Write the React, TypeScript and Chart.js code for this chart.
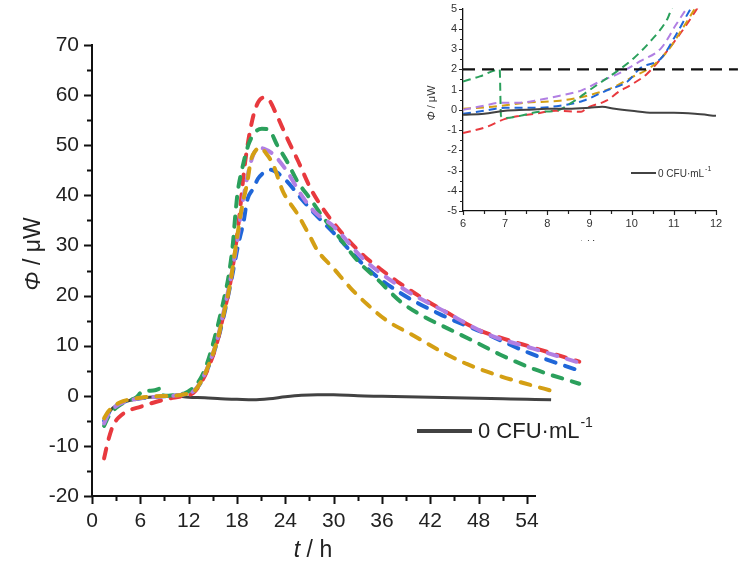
import React, { useEffect, useRef } from "react";
import { Chart, registerables } from "chart.js";
Chart.register(...registerables);

// ---------- main chart data ----------
const mainXTicks = [0, 6, 12, 18, 24, 30, 36, 42, 48, 54];
const mainXMinor = [3, 9, 15, 21, 27, 33, 39, 45, 51];
const mainYTicks = [-20, -10, 0, 10, 20, 30, 40, 50, 60, 70];
const mainYMinor = [-15, -5, 5, 15, 25, 35, 45, 55, 65];

const redT = [1.5, 2.0, 2.6, 3.4, 4.5, 6, 8, 10, 11.5, 12.6, 13.5, 14.3, 15.5, 16.3, 17.2, 18.2, 19.0, 19.9, 20.6, 21.3, 22.0, 22.8, 24.2, 25.6, 27.1, 28.4, 30.5, 33.7, 35.8, 37.9, 41.2, 44.2, 47.9, 50.7, 54.8, 60.5];
const redPhi = [-12.5, -9, -6, -4.2, -3, -2.2, -1.2, -0.4, 0, 0.6, 2.5, 5, 10.5, 16, 22.8, 34.5, 46.5, 55, 58.5, 59.5, 59, 56.5, 51.5, 46.8, 41.5, 38, 33.5, 28, 25.3, 22.8, 19.3, 16.5, 13.2, 11.6, 9.6, 6.8];

const greenT = [1.5, 2.0, 2.6, 3.5, 4.5, 5.5, 6.2, 7.0, 7.8, 8.6, 8.8, 9.5, 10.5, 11.5, 12.5, 13.5, 14.3, 15.3, 16.2, 17.0, 17.5, 17.8, 18.1, 18.6, 19.4, 20.2, 21.1, 22.0, 23.0, 24.2, 25.5, 27.1, 28.7, 30.5, 33, 35.4, 38.3, 41.2, 44.2, 47.4, 50.7, 54.9, 60.5];
const greenPhi = [-6, -4.3, -3, -1.8, -1, -0.3, 0.8, 1.0, 1.1, 1.5, 0.1, 0, 0.2, 0.5, 1.5, 3.5, 6.5, 12, 18, 24.3, 30.5, 36.2, 40.8, 45, 50, 52.5, 53.3, 53, 50, 46.8, 42.8, 39.3, 35.6, 32, 26.9, 23.3, 18.8, 15.8, 13.4, 10.9, 8.2, 5.3, 2.4];

const purpleT = [1.5, 2.0, 2.6, 3.5, 4.5, 6, 8, 10, 11.5, 12.6, 13.5, 14.3, 15.5, 16.3, 17.2, 18.0, 18.6, 19.3, 20.0, 20.7, 21.3, 22.5, 24.2, 25.9, 27.5, 30.0, 33.7, 38.7, 43.7, 49.1, 54.8, 60.5];
const purplePhi = [-5.5, -3.8, -2.6, -1.6, -1, -0.5, -0.2, 0, 0.3, 0.9, 2.8, 5.5, 11, 16.5, 23.3, 30.5, 37.6, 43.8, 48, 49.5, 49.3, 48.2, 44.8, 40.3, 36.9, 33.8, 27.3, 21.3, 16.9, 12.3, 9.4, 6.6];

const blueT = [1.5, 2.0, 2.6, 3.5, 4.5, 6, 8, 10, 11.5, 12.6, 13.5, 14.3, 15.5, 16.3, 17.2, 18.2, 18.8, 19.3, 20.0, 20.6, 21.3, 22.1, 23.0, 24.2, 25.9, 27.5, 30.0, 34.2, 37.9, 43.3, 48.3, 54.5, 60.5];
const bluePhi = [-5, -3.6, -2.5, -1.5, -1, -0.5, -0.2, 0, 0.3, 0.8, 2.6, 5.2, 10.5, 15.5, 22.3, 30.5, 34.6, 39.2, 41.3, 43.3, 44.5, 45.1, 44.5, 42.8, 39.5, 36.6, 32.5, 25.4, 20.9, 16.2, 12.8, 8.4, 5];

const goldT = [1.5, 2.0, 2.6, 3.5, 4.5, 6, 8, 10, 11.5, 12.6, 13.5, 14.3, 15.5, 16.3, 17.2, 18.0, 18.6, 19.3, 19.7, 20.3, 20.9, 21.6, 22.5, 23.7, 25.5, 26.9, 28.0, 30.0, 32.1, 34.2, 36.7, 39.6, 43.3, 46.6, 50.7, 54.8, 57.5, 60.5];
const goldPhi = [-4.5, -3.2, -2.2, -1.3, -0.8, -0.4, -0.1, 0, 0.3, 0.8, 2.7, 5.4, 10.8, 16, 22.8, 31.5, 37.5, 42.8, 46.8, 48.9, 49.5, 48.4, 46.1, 40.8, 36.3, 32.3, 29, 25.4, 21.5, 18.2, 14.9, 12.3, 8.9, 6.3, 3.9, 2, 0.8, -0.6];

const blackT = [1.5, 2.0, 2.6, 3.5, 4.5, 6, 8, 10, 12, 14, 16, 18, 20, 22, 24, 26, 28, 30, 33, 36, 39, 42, 45, 48, 51, 54, 57, 60.5];
const blackPhi = [-4.8, -3.5, -2.4, -1.5, -1, -0.5, -0.2, 0, -0.3, -0.4, -0.6, -0.7, -0.8, -0.6, -0.2, 0.1, 0.2, 0.2, 0, -0.1, -0.2, -0.3, -0.4, -0.5, -0.6, -0.7, -0.8, -1];

// ---------- inset data ----------
const insetXTicks = [6, 7, 8, 9, 10, 11, 12];
const insetXMinor = [6.5, 7.5, 8.5, 9.5, 10.5, 11.5];
const insetYTicks = [-5, -4, -3, -2, -1, 0, 1, 2, 3, 4, 5];
const insetYMinor = [-4.5, -3.5, -2.5, -1.5, -0.5, 0.5, 1.5, 2.5, 3.5, 4.5];

const inGreenT = [6, 6.4, 6.87, 6.9, 7.0, 7.35, 7.8, 8.2, 8.65, 8.95, 9.3, 9.65, 10.05, 10.45, 10.85, 10.95, 11.1];
const inGreenPhi = [1.4, 1.65, 1.99, -0.3, -0.4, -0.3, -0.1, -0.05, 0.45, 0.9, 1.4, 1.9, 2.55, 3.4, 4.5, 5, 5.4];
const inPurpleT = [6, 6.5, 6.9, 7.3, 7.7, 8.3, 8.8, 9.25, 9.7, 10.2, 10.7, 11.05, 11.3, 11.45];
const inPurplePhi = [0, 0.2, 0.35, 0.35, 0.45, 0.7, 0.95, 1.4, 1.8, 2.4, 3.05, 4.2, 5, 5.5];
const inBlueT = [6, 6.5, 7, 7.7, 8.3, 8.85, 9.4, 9.9, 10.2, 10.7, 11.05, 11.4, 11.55];
const inBluePhi = [-0.2, -0.05, 0.1, 0.1, 0.2, 0.45, 0.95, 1.4, 2.05, 2.55, 3.7, 5, 5.5];
const inGoldT = [6, 6.7, 7.5, 8.3, 8.95, 9.55, 10, 10.45, 10.85, 11.2, 11.5, 11.65];
const inGoldPhi = [0.05, 0.15, 0.35, 0.45, 0.7, 1.1, 1.6, 2.1, 2.9, 4, 5, 5.5];
const inRedT = [6, 6.55, 7, 7.35, 7.7, 8.2, 8.8, 8.95, 9.4, 9.7, 10, 10.35, 10.6, 10.95, 11.3, 11.55, 11.7];
const inRedPhi = [-1.15, -0.85, -0.45, -0.3, -0.2, -0.05, -0.1, 0.1, 0.45, 0.9, 1.25, 1.75, 2.3, 3.2, 4.2, 5, 5.5];
const inBlackT = [6, 6.5, 7, 7.5, 8, 8.5, 9, 9.3, 9.6, 10, 10.5, 11, 11.5, 12];
const inBlackPhi = [-0.25, -0.2, -0.05, 0, 0.05, 0.05, 0.1, 0.15, 0.05, -0.05, -0.15, -0.15, -0.2, -0.3];
const thresholdT = [6, 12.52];
const thresholdPhi = [2, 2];

const legendLabel = "0 CFU·mL";
const legendSup = "-1";

const RED = "#e8393e";
const GREEN = "#2ba05c";
const PURPLE = "#b17fe3";
const BLUE = "#1f66d8";
const GOLD = "#d49f14";
const BLACK = "#424242";

const FONT = "'Liberation Sans', Arial, sans-serif";

function pts(t: number[], v: number[]) {
  return t.map((x, i) => ({ x, y: v[i] }));
}

function tickPlugin(id: string, cfg: any) {
  return {
    id,
    afterDraw(chart: any) {
      const { ctx, chartArea, scales } = chart;
      const xs = scales.x;
      const ys = scales.y;
      ctx.save();
      ctx.strokeStyle = cfg.color;
      ctx.lineWidth = cfg.width;
      ctx.beginPath();
      const b = chartArea.bottom;
      const l = chartArea.left;
      for (const v of cfg.xMajor) {
        const p = Math.round(xs.getPixelForValue(v)) + 0.5;
        ctx.moveTo(p, b);
        ctx.lineTo(p, b + cfg.major);
      }
      for (const v of cfg.xMinor) {
        const p = Math.round(xs.getPixelForValue(v)) + 0.5;
        ctx.moveTo(p, b);
        ctx.lineTo(p, b + cfg.minor);
      }
      for (const v of cfg.yMajor) {
        const p = Math.round(ys.getPixelForValue(v)) + 0.5;
        ctx.moveTo(l, p);
        ctx.lineTo(l - cfg.major, p);
      }
      for (const v of cfg.yMinor) {
        const p = Math.round(ys.getPixelForValue(v)) + 0.5;
        ctx.moveTo(l, p);
        ctx.lineTo(l - cfg.minor, p);
      }
      ctx.stroke();
      ctx.restore();
    },
  };
}

function textPlugin(id: string, draw: (ctx: CanvasRenderingContext2D, chart: any) => void) {
  return {
    id,
    afterDraw(chart: any) {
      const ctx = chart.ctx;
      ctx.save();
      draw(ctx, chart);
      ctx.restore();
    },
  };
}

function drawTitle(ctx: CanvasRenderingContext2D, parts: { text: string; italic: boolean }[], size: number, cx: number, cy: number, color: string) {
  let total = 0;
  const widths: number[] = [];
  for (const p of parts) {
    ctx.font = `${p.italic ? "italic " : ""}${size}px ${FONT}`;
    const w = ctx.measureText(p.text).width;
    widths.push(w);
    total += w;
  }
  let x = cx - total / 2;
  ctx.fillStyle = color;
  ctx.textBaseline = "middle";
  ctx.textAlign = "left";
  parts.forEach((p, i) => {
    ctx.font = `${p.italic ? "italic " : ""}${size}px ${FONT}`;
    ctx.fillText(p.text, x, cy);
    x += widths[i];
  });
}

function lineDs(data: any, color: string, width: number, dash: number[] | null, cap: string = "butt") {
  return {
    data,
    borderColor: color,
    borderWidth: width,
    borderDash: dash || [],
    borderCapStyle: cap,
    pointRadius: 0,
    fill: false,
    cubicInterpolationMode: "monotone",
  };
}

function scaleOpts(min: number, max: number, ticks: number[], fontSize: number, color: string, tl: number, pad: number, fit: (s: any) => void, borderW: number) {
  return {
    type: "linear",
    min,
    max,
    afterFit: fit,
    afterBuildTicks: (s: any) => {
      s.ticks = ticks.map((v) => ({ value: v }));
    },
    ticks: {
      autoSkip: false,
      maxRotation: 0,
      padding: pad,
      color,
      font: { size: fontSize, family: FONT },
      callback: (v: any) => String(v),
    },
    grid: { display: false, drawTicks: true, tickLength: tl },
    border: { display: true, color: "#111", width: borderW },
  };
}

export default function App() {
  const mainRef = useRef<HTMLCanvasElement>(null);
  const insetRef = useRef<HTMLCanvasElement>(null);

  useEffect(() => {
    const mainDash = [10, 10];
    const main = new Chart(mainRef.current as HTMLCanvasElement, {
      type: "line",
      data: {
        datasets: [
          { ...lineDs(pts(goldT, goldPhi), GOLD, 4, mainDash, "round"), clip: false },
          { ...lineDs(pts(purpleT, purplePhi), PURPLE, 4, mainDash, "round"), clip: false },
          { ...lineDs(pts(greenT, greenPhi), GREEN, 4, mainDash, "round"), clip: false },
          { ...lineDs(pts(redT, redPhi), RED, 4, mainDash, "round"), clip: false },
          { ...lineDs(pts(blueT, bluePhi), BLUE, 4, mainDash, "round"), clip: false },
          { ...lineDs(pts(blackT, blackPhi), BLACK, 3, null), clip: false },
        ] as any,
      },
      options: {
        responsive: false,
        animation: false,
        events: [],
        layout: { padding: { top: 45, right: 204, left: 0, bottom: 0 }, autoPadding: false } as any,
        plugins: { legend: { display: false }, tooltip: { enabled: false } },
        scales: {
          x: scaleOpts(0, 55, mainXTicks, 21, "#222", 8, 5, (s: any) => { s.height = 75; }, 2) as any,
          y: scaleOpts(-20, 70, mainYTicks, 21, "#222", 8, 5, (s: any) => { s.width = 92; }, 2) as any,
        },
      },
      plugins: [
        tickPlugin("mainTicks", { xMajor: mainXTicks, xMinor: mainXMinor, yMajor: mainYTicks, yMinor: mainYMinor, major: 8, minor: 5, color: "#111", width: 2 }),
        textPlugin("mainText", (ctx) => {
          drawTitle(ctx, [{ text: "t", italic: true }, { text: " / h", italic: false }], 23, 313, 551, "#222");
          ctx.save();
          ctx.translate(34, 254);
          ctx.rotate(-Math.PI / 2);
          drawTitle(ctx, [{ text: "Φ", italic: true }, { text: " / μW", italic: false }], 23, 0, 0, "#222");
          ctx.restore();
          // legend
          ctx.strokeStyle = BLACK;
          ctx.lineWidth = 4;
          ctx.beginPath();
          ctx.moveTo(417, 431);
          ctx.lineTo(472, 431);
          ctx.stroke();
          ctx.fillStyle = "#222";
          ctx.textBaseline = "middle";
          ctx.textAlign = "left";
          ctx.font = `22px ${FONT}`;
          ctx.fillText(legendLabel, 478, 432);
          const w = ctx.measureText(legendLabel).width;
          ctx.font = `14px ${FONT}`;
          ctx.fillText(legendSup, 478 + w + 1, 423);
        }),
      ],
    });

    const inDash = [8, 5];
    const inset = new Chart(insetRef.current as HTMLCanvasElement, {
      type: "line",
      data: {
        datasets: [
          { ...lineDs(pts(thresholdT, thresholdPhi), "#111", 2.2, [12, 7]), clip: false, cubicInterpolationMode: "default", tension: 0 },
          lineDs(pts(inBlackT, inBlackPhi), BLACK, 2, null),
          lineDs(pts(inGreenT, inGreenPhi), GREEN, 2, inDash),
          lineDs(pts(inPurpleT, inPurplePhi), PURPLE, 2, inDash),
          lineDs(pts(inBlueT, inBluePhi), BLUE, 2, inDash),
          lineDs(pts(inGoldT, inGoldPhi), GOLD, 2, inDash),
          lineDs(pts(inRedT, inRedPhi), RED, 2, inDash),
        ] as any,
      },
      options: {
        responsive: false,
        animation: false,
        events: [],
        layout: { padding: { top: 7, right: 23, left: 0, bottom: 0 }, autoPadding: false } as any,
        plugins: { legend: { display: false }, tooltip: { enabled: false } },
        scales: {
          x: scaleOpts(6, 12, insetXTicks, 11, "#333", 4, 2, (s: any) => { s.height = 30; }, 1.3) as any,
          y: scaleOpts(-5, 5, insetYTicks, 11, "#333", 4, 2, (s: any) => { s.width = 63; }, 1.3) as any,
        },
      },
      plugins: [
        tickPlugin("insetTicks", { xMajor: insetXTicks, xMinor: insetXMinor, yMajor: insetYTicks, yMinor: insetYMinor, major: 4, minor: 3, color: "#222", width: 1.2 }),
        textPlugin("insetText", (ctx) => {
          ctx.save();
          ctx.translate(32, 103);
          ctx.rotate(-Math.PI / 2);
          drawTitle(ctx, [{ text: "Φ", italic: true }, { text: " / μW", italic: false }], 11, 0, 0, "#333");
          ctx.restore();
          drawTitle(ctx, [{ text: "t", italic: true }, { text: " / h", italic: false }], 12, 189, 246, "#333");
          ctx.strokeStyle = BLACK;
          ctx.lineWidth = 2;
          ctx.beginPath();
          ctx.moveTo(231, 173);
          ctx.lineTo(256, 173);
          ctx.stroke();
          ctx.fillStyle = "#333";
          ctx.textBaseline = "middle";
          ctx.textAlign = "left";
          ctx.font = `10px ${FONT}`;
          ctx.fillText(legendLabel, 258, 174);
          const w = ctx.measureText(legendLabel).width;
          ctx.font = `7px ${FONT}`;
          ctx.fillText(legendSup, 258 + w + 1, 169);
        }),
      ],
    });

    return () => {
      main.destroy();
      inset.destroy();
    };
  }, []);

  return (
    <div style={{ position: "absolute", left: 0, top: 0, width: 739, height: 571, background: "#fff" }}>
      <canvas ref={mainRef} width={739} height={571} style={{ position: "absolute", left: 0, top: 0, width: 739, height: 571 }} />
      <canvas ref={insetRef} width={339} height={241} style={{ position: "absolute", left: 400, top: 0, width: 339, height: 241 }} />
    </div>
  );
}
